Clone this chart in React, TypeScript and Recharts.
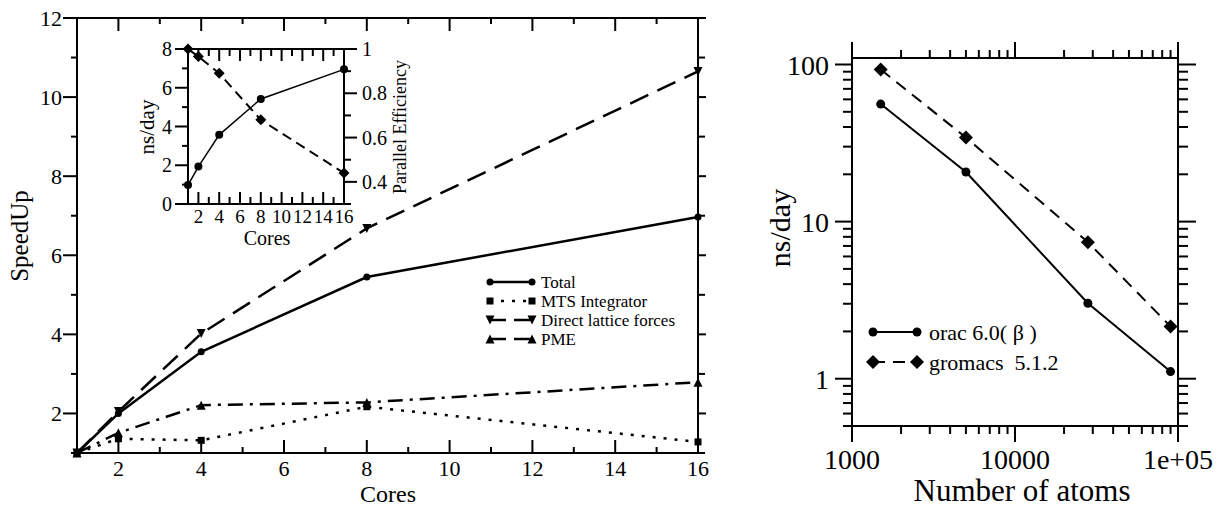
import React from 'react';
import { LineChart, Line, XAxis, YAxis, ReferenceArea } from 'recharts';

// main panel: speedup vs cores
const cores = [1, 2, 4, 8, 16];
const totalSpeedup = [1, 2.0, 3.56, 5.45, 6.97];
const mtsSpeedup = [1, 1.36, 1.32, 2.17, 1.28];
const directSpeedup = [1, 2.05, 4.02, 6.68, 10.65];
const pmeSpeedup = [1, 1.51, 2.21, 2.28, 2.79];

// inset: ns/day and parallel efficiency
const insetNsDay = [0.98, 1.93, 3.57, 5.42, 6.95];
const insetEfficiency = [1.0, 0.966, 0.89, 0.68, 0.44];

// right panel: ns/day vs number of atoms
const atoms = [1500, 5000, 28000, 90000];
const oracNsDay = [56, 20.7, 3.02, 1.11];
const gromacsNsDay = [93, 34.3, 7.4, 2.15];

const coreTicks = [1, 2, 3, 4, 5, 6, 7, 8, 9, 10, 11, 12, 13, 14, 15, 16];
const speedupTicks = [1, 2, 3, 4, 5, 6, 7, 8, 9, 10, 11, 12];
const insetNsTicks = [0, 1, 2, 3, 4, 5, 6, 7, 8];
const effTicks = [0.3, 0.4, 0.5, 0.6, 0.7, 0.8, 0.9, 1.0];
const atomTicks = [1000, 2000, 3000, 4000, 5000, 6000, 7000, 8000, 9000, 10000, 20000, 30000, 40000, 50000, 60000, 70000, 80000, 90000, 100000];
const atomTickLabels: Record<number, string> = { 1000: '1000', 10000: '10000', 100000: '1e+05' };
const nsDayTicks = [0.5, 0.6, 0.7, 0.8, 0.9, 1, 2, 3, 4, 5, 6, 7, 8, 9, 10, 20, 30, 40, 50, 60, 70, 80, 90, 100];
const nsDayTickLabels: Record<number, string> = { 1: '1', 10: '10', 100: '100' };

const mainData = cores.map((c, i) => ({
  cores: c,
  total: totalSpeedup[i],
  mts: mtsSpeedup[i],
  direct: directSpeedup[i],
  pme: pmeSpeedup[i],
}));
const insetData = cores.map((c, i) => ({ cores: c, ns: insetNsDay[i], eff: insetEfficiency[i] }));
const atomData = atoms.map((a, i) => ({ atoms: a, orac: oracNsDay[i], gromacs: gromacsNsDay[i] }));

const FONT = '"Liberation Serif", "DejaVu Serif", serif';
const INK = '#000';

// plot sizes (px) used by the tick renderers to mirror ticks on the opposite side
const MAIN_W = 621;
const MAIN_H = 435;
const INSET_H = 155;
const RIGHT_W = 326;
const RIGHT_H = 368;

type Shape = 'circle' | 'square' | 'down' | 'up' | 'diamond';

const drawMarker = (shape: Shape, cx: number, cy: number, s: number, key?: any) => {
  if (shape === 'circle') return <circle key={key} cx={cx} cy={cy} r={s} fill={INK} />;
  if (shape === 'square') return <rect key={key} x={cx - s} y={cy - s} width={2 * s} height={2 * s} fill={INK} />;
  if (shape === 'down')
    return <polygon key={key} points={`${cx - s},${cy - s} ${cx + s},${cy - s} ${cx},${cy + s}`} fill={INK} />;
  if (shape === 'up')
    return <polygon key={key} points={`${cx - s},${cy + s} ${cx + s},${cy + s} ${cx},${cy - s}`} fill={INK} />;
  return <polygon key={key} points={`${cx},${cy - s} ${cx + s},${cy} ${cx},${cy + s} ${cx - s},${cy}`} fill={INK} />;
};

const dot = (shape: Shape, s: number) => (props: any) => drawMarker(shape, props.cx, props.cy, s, props.key ?? props.index);

// ---- main panel ticks ----
const MainXTick = (props: any) => {
  const { x, y, payload } = props;
  const v = payload.value;
  const major = v % 2 === 0;
  const len = major ? 13 : 6;
  return (
    <g>
      <line x1={x} x2={x} y1={y} y2={y - len} stroke={INK} strokeWidth={2} />
      <line x1={x} x2={x} y1={y - MAIN_H} y2={y - MAIN_H + len} stroke={INK} strokeWidth={2} />
      {major && (
        <text x={x} y={y + 23} textAnchor="middle" fontSize={22} fontFamily={FONT} fill={INK}>
          {v}
        </text>
      )}
    </g>
  );
};

const MainYTick = (props: any) => {
  const { x, y, payload } = props;
  const v = payload.value;
  const major = v % 2 === 0;
  const len = major ? 14 : 6;
  return (
    <g>
      <line x1={x - len} x2={x} y1={y} y2={y} stroke={INK} strokeWidth={2} />
      <line x1={x + MAIN_W} x2={x + MAIN_W + (major ? 8 : 7)} y1={y} y2={y} stroke={INK} strokeWidth={2} />
      {major && (
        <text x={x - 15} y={y + 8} textAnchor="end" fontSize={22} fontFamily={FONT} fill={INK}>
          {v}
        </text>
      )}
    </g>
  );
};

// ---- inset ticks ----
const InsetXTick = (props: any) => {
  const { x, y, payload } = props;
  const v = payload.value;
  const major = v % 2 === 0;
  const len = major ? 12 : 7;
  return (
    <g>
      <line x1={x} x2={x} y1={y} y2={y - len} stroke={INK} strokeWidth={2} />
      <line x1={x} x2={x} y1={y - INSET_H} y2={y - INSET_H + len} stroke={INK} strokeWidth={2} />
      {major && (
        <text x={x} y={y + 19} textAnchor="middle" fontSize={19} fontFamily={FONT} fill={INK}>
          {v}
        </text>
      )}
    </g>
  );
};

const InsetNsTick = (props: any) => {
  const { x, y, payload } = props;
  const v = payload.value;
  const major = v % 2 === 0;
  const len = major ? 13 : 6;
  return (
    <g>
      <line x1={x - len} x2={x} y1={y} y2={y} stroke={INK} strokeWidth={2} />
      {major && (
        <text x={x - 16} y={y + 7} textAnchor="end" fontSize={20} fontFamily={FONT} fill={INK}>
          {v}
        </text>
      )}
    </g>
  );
};

const InsetEffTick = (props: any) => {
  const { x, y, payload } = props;
  const v = payload.value;
  const major = Math.round(v * 10) % 2 === 0;
  const len = major ? 13 : 7;
  const showLabel = major && v > 0.35;
  return (
    <g>
      <line x1={x} x2={x + len} y1={y} y2={y} stroke={INK} strokeWidth={2} />
      {showLabel && (
        <text x={x + 18} y={y + 7} textAnchor="start" fontSize={20} fontFamily={FONT} fill={INK}>
          {v === 1 ? '1' : v.toFixed(1)}
        </text>
      )}
    </g>
  );
};

// ---- right panel ticks ----
const AtomTick = (props: any) => {
  const { x, y, payload } = props;
  const v = payload.value;
  const label = atomTickLabels[v];
  const len = label ? 16 : 8;
  return (
    <g>
      <line x1={x} x2={x} y1={y} y2={y + len} stroke={INK} strokeWidth={2} />
      <line x1={x} x2={x} y1={y - RIGHT_H} y2={y - RIGHT_H - len} stroke={INK} strokeWidth={2} />
      {label && (
        <text x={x} y={y + 43} textAnchor="middle" fontSize={28} fontFamily={FONT} fill={INK}>
          {label}
        </text>
      )}
    </g>
  );
};

const NsDayTick = (props: any) => {
  const { x, y, payload } = props;
  const v = payload.value;
  const label = nsDayTickLabels[v];
  return (
    <g>
      <line x1={x - (label ? 17 : 9)} x2={x} y1={y} y2={y} stroke={INK} strokeWidth={2} />
      <line x1={x + RIGHT_W} x2={x + RIGHT_W + (label ? 18 : 10)} y1={y} y2={y} stroke={INK} strokeWidth={2} />
      {label && (
        <text x={x - 23} y={y + 10} textAnchor="end" fontSize={28} fontFamily={FONT} fill={INK}>
          {label}
        </text>
      )}
    </g>
  );
};

const mainLegend = [
  { name: 'Total', shape: 'circle' as Shape, size: 3.5, dash: undefined, y: 282 },
  { name: 'MTS Integrator', shape: 'square' as Shape, size: 3.5, dash: '3 8', y: 301 },
  { name: 'Direct lattice forces', shape: 'down' as Shape, size: 4.5, dash: '16 8', y: 320 },
  { name: 'PME', shape: 'up' as Shape, size: 4.5, dash: '16 8', y: 339 },
];

const rightLegend = [
  { name: 'orac 6.0( β )', shape: 'circle' as Shape, size: 4.5, dash: undefined, y: 332 },
  { name: 'gromacs  5.1.2', shape: 'diamond' as Shape, size: 7, dash: '12 8', y: 362 },
];

export default function App() {
  return (
    <div style={{ position: 'absolute', left: 0, top: 0, width: 1218, height: 507, background: '#fff', overflow: 'hidden' }}>
      {/* main panel */}
      <div style={{ position: 'absolute', left: 0, top: 0 }}>
        <LineChart width={720} height={507} data={mainData} margin={{ top: 18, right: 22, bottom: 0, left: 0 }}>
          <XAxis
            dataKey="cores"
            type="number"
            domain={[1, 16]}
            ticks={coreTicks}
            interval={0}
            height={54}
            tickSize={0}
            tickMargin={0}
            tickLine={false}
            axisLine={{ stroke: INK, strokeWidth: 2 }}
            tick={<MainXTick />}
          />
          <YAxis
            type="number"
            domain={[1, 12]}
            ticks={speedupTicks}
            interval={0}
            width={77}
            tickSize={0}
            tickMargin={0}
            tickLine={false}
            axisLine={{ stroke: INK, strokeWidth: 2 }}
            tick={<MainYTick />}
          />
          <ReferenceArea x1={1} x2={16} y1={1} y2={12} fill="none" stroke={INK} strokeWidth={2} />
          <Line dataKey="mts" stroke={INK} strokeWidth={2.5} strokeDasharray="3 8" dot={dot('square', 3.5)} isAnimationActive={false} />
          <Line dataKey="pme" stroke={INK} strokeWidth={2.5} strokeDasharray="15 7 3 7" dot={dot('up', 4.5)} isAnimationActive={false} />
          <Line dataKey="direct" stroke={INK} strokeWidth={2.5} strokeDasharray="20 10" dot={dot('down', 4.5)} isAnimationActive={false} />
          <Line dataKey="total" stroke={INK} strokeWidth={2.5} dot={dot('circle', 3.5)} isAnimationActive={false} />
        </LineChart>
      </div>

      {/* inset */}
      <div style={{ position: 'absolute', left: 130, top: 30 }}>
        <LineChart width={290} height={220} data={insetData} margin={{ top: 19, right: 0, bottom: 0, left: 0 }}>
          <XAxis
            dataKey="cores"
            type="number"
            domain={[1, 16]}
            ticks={coreTicks}
            interval={0}
            height={46}
            tickSize={0}
            tickMargin={0}
            tickLine={false}
            axisLine={{ stroke: INK, strokeWidth: 2 }}
            tick={<InsetXTick />}
          />
          <YAxis
            yAxisId="ns"
            type="number"
            domain={[0, 8]}
            ticks={insetNsTicks}
            interval={0}
            width={58}
            tickSize={0}
            tickMargin={0}
            tickLine={false}
            axisLine={{ stroke: INK, strokeWidth: 2 }}
            tick={<InsetNsTick />}
          />
          <YAxis
            yAxisId="eff"
            orientation="right"
            type="number"
            domain={[0.3, 1]}
            ticks={effTicks}
            interval={0}
            width={76}
            tickSize={0}
            tickMargin={0}
            tickLine={false}
            axisLine={{ stroke: INK, strokeWidth: 2 }}
            tick={<InsetEffTick />}
          />
          <ReferenceArea yAxisId="ns" x1={1} x2={16} y1={0} y2={8} fill="none" stroke={INK} strokeWidth={2} />
          <Line yAxisId="eff" dataKey="eff" stroke={INK} strokeWidth={2} strokeDasharray="10 6" dot={dot('diamond', 5.5)} isAnimationActive={false} />
          <Line yAxisId="ns" dataKey="ns" stroke={INK} strokeWidth={1.5} dot={dot('circle', 4)} isAnimationActive={false} />
        </LineChart>
      </div>

      {/* right panel */}
      <div style={{ position: 'absolute', left: 720, top: 0 }}>
        <LineChart width={498} height={507} data={atomData} margin={{ top: 58, right: 40, bottom: 0, left: 0 }}>
          <XAxis
            dataKey="atoms"
            type="number"
            scale="log"
            domain={[1000, 100000]}
            ticks={atomTicks}
            interval={0}
            allowDataOverflow
            height={81}
            tickSize={0}
            tickMargin={0}
            tickLine={false}
            axisLine={{ stroke: INK, strokeWidth: 2 }}
            tick={<AtomTick />}
          />
          <YAxis
            type="number"
            scale="log"
            domain={[0.5, 110]}
            ticks={nsDayTicks}
            interval={0}
            allowDataOverflow
            width={132}
            tickSize={0}
            tickMargin={0}
            tickLine={false}
            axisLine={{ stroke: INK, strokeWidth: 2 }}
            tick={<NsDayTick />}
          />
          <ReferenceArea x1={1000} x2={100000} y1={0.5} y2={110} fill="none" stroke={INK} strokeWidth={2} />
          <Line dataKey="gromacs" stroke={INK} strokeWidth={2} strokeDasharray="12 8" dot={dot('diamond', 7)} isAnimationActive={false} />
          <Line dataKey="orac" stroke={INK} strokeWidth={2} dot={dot('circle', 4.5)} isAnimationActive={false} />
        </LineChart>
      </div>

      {/* titles and legends */}
      <svg width={1218} height={507} style={{ position: 'absolute', left: 0, top: 0, pointerEvents: 'none' }}>
        <g fontFamily={FONT} fill={INK}>
          <text x={388} y={502} textAnchor="middle" fontSize={24}>Cores</text>
          <text transform="translate(28,236) rotate(-90)" textAnchor="middle" fontSize={25}>SpeedUp</text>

          <text x={267} y={245} textAnchor="middle" fontSize={20}>Cores</text>
          <text transform="translate(154,127) rotate(-90)" textAnchor="middle" fontSize={21}>ns/day</text>
          <text transform="translate(406,127) rotate(-90)" textAnchor="middle" fontSize={18}>Parallel Efficiency</text>

          <text x={1022} y={501} textAnchor="middle" fontSize={31}>Number of atoms</text>
          <text transform="translate(790,228) rotate(-90)" textAnchor="middle" fontSize={30}>ns/day</text>
        </g>

        {mainLegend.map((item) => (
          <g key={item.name}>
            <line x1={490} x2={532} y1={item.y} y2={item.y} stroke={INK} strokeWidth={2.5} strokeDasharray={item.dash} />
            {drawMarker(item.shape, 490, item.y, item.size)}
            {drawMarker(item.shape, 532, item.y, item.size)}
            <text x={541} y={item.y + 6} fontSize={17} fontFamily={FONT} fill={INK}>{item.name}</text>
          </g>
        ))}

        {rightLegend.map((item) => (
          <g key={item.name}>
            <line x1={873} x2={917} y1={item.y} y2={item.y} stroke={INK} strokeWidth={2} strokeDasharray={item.dash} />
            {drawMarker(item.shape, 873, item.y, item.size)}
            {drawMarker(item.shape, 917, item.y, item.size)}
            <text x={929} y={item.y + 8} fontSize={22} fontFamily={FONT} fill={INK} style={{ whiteSpace: 'pre' }}>
              {item.name}
            </text>
          </g>
        ))}
      </svg>
    </div>
  );
}
